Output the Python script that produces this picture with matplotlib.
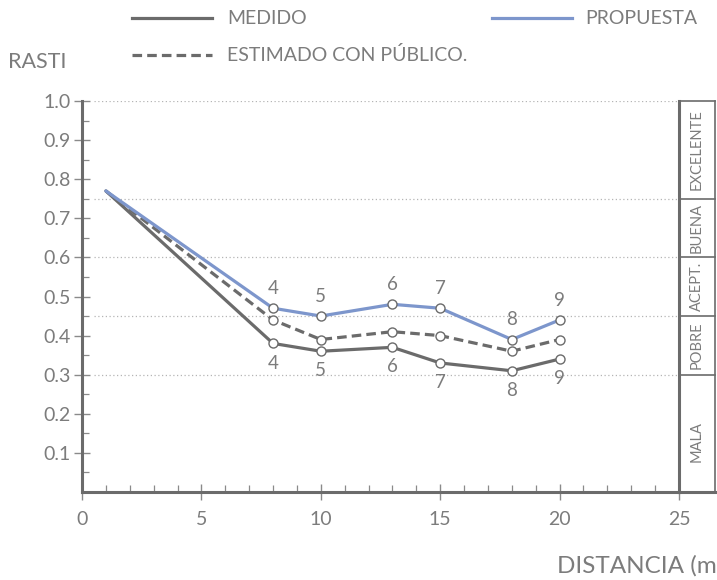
import matplotlib
matplotlib.use("Agg")
import matplotlib.pyplot as plt
from matplotlib.lines import Line2D
from matplotlib.ticker import MultipleLocator, FormatStrFormatter

plt.rcParams['font.family'] = ['Lato', 'DejaVu Sans']

# Data
distancia = [1, 8, 10, 13, 15, 18, 20]
medido = [0.77, 0.38, 0.36, 0.37, 0.33, 0.31, 0.34]
estimado = [0.77, 0.44, 0.39, 0.41, 0.40, 0.36, 0.39]
propuesta = [0.77, 0.47, 0.45, 0.48, 0.47, 0.39, 0.44]
puntos = ["4", "5", "6", "7", "8", "9"]

categorias = ["MALA", "POBRE", "ACEPT.", "BUENA", "EXCELENTE"]
limites = [0.0, 0.30, 0.45, 0.60, 0.75, 1.0]

GRIS = "#6b6b6b"
GRIS_TXT = "#7c7c7c"
AZUL = "#7d96cc"

fig = plt.figure(figsize=(7.17, 5.80), dpi=100, facecolor="white")
ax = fig.add_axes([82/717, 1-492/580, (679-82)/717, (492-101)/580])
ax.set_xlim(0, 25)
ax.set_ylim(0, 1.0)

# dotted reference lines at the category limits
for v in limites[1:]:
    ax.axhline(v, xmin=0.02, xmax=1, color="#b5b5b5", lw=0.9, ls=(0, (1, 2)), zorder=1)

# series
ax.plot(distancia, medido, color=GRIS, lw=2.3, zorder=3, solid_capstyle="round")
ax.plot(distancia, estimado, color=GRIS, lw=2.3, ls=(0, (3, 1.6)), zorder=3)
ax.plot(distancia, propuesta, color=AZUL, lw=2.3, zorder=3, solid_capstyle="round")
for serie in (medido, estimado, propuesta):
    ax.plot(distancia[1:], serie[1:], ls="none", marker="o", ms=6.5,
            mfc="white", mec=GRIS, mew=1.0, zorder=4)

# point numbers: above the proposal line, below the measured line
for d, p, m, lab in zip(distancia[1:], propuesta[1:], medido[1:], puntos):
    ax.annotate(lab, (d, p), xytext=(0, 8), textcoords="offset points",
                ha="center", va="bottom", fontsize=13.5, color=GRIS_TXT)
    ax.annotate(lab, (d, m), xytext=(0, -8), textcoords="offset points",
                ha="center", va="top", fontsize=13.5, color=GRIS_TXT)

# axes styling
for s in ("left", "bottom", "right"):
    ax.spines[s].set_color(GRIS)
    ax.spines[s].set_linewidth(2.2)
ax.spines["top"].set_visible(False)

ax.xaxis.set_major_locator(MultipleLocator(5))
ax.xaxis.set_minor_locator(MultipleLocator(1))
ax.yaxis.set_major_locator(MultipleLocator(0.1))
ax.yaxis.set_minor_locator(MultipleLocator(0.05))
ax.yaxis.set_major_formatter(FormatStrFormatter("%.1f"))
ax.set_yticks([0.1, 0.2, 0.3, 0.4, 0.5, 0.6, 0.7, 0.8, 0.9, 1.0])
ax.tick_params(axis="both", which="major", direction="inout", length=12,
               width=1.0, color="#8a8a8a", labelsize=14, labelcolor=GRIS_TXT)
ax.tick_params(axis="x", which="major", pad=8)
ax.tick_params(axis="y", which="major", pad=2)
ax.tick_params(axis="both", which="minor", direction="in", length=5,
               width=0.9, color="#8a8a8a")

# quality scale at the right
x_caja = 26.5
ax.plot([25, 27], [0, 0], color=GRIS, lw=2.2, clip_on=False, zorder=2)
ax.plot([x_caja, x_caja], [0, 1.0], color=GRIS, lw=1.2, clip_on=False)
for v in limites[1:]:
    ax.plot([25, x_caja], [v, v], color=GRIS, lw=1.2, clip_on=False)
for cat, lo, hi in zip(categorias, limites[:-1], limites[1:]):
    yc = (lo + hi) / 2 if cat != "MALA" else 0.13
    ax.text((25 + x_caja) / 2, yc, cat, rotation=90, ha="center", va="center",
            fontsize=10.5, color=GRIS_TXT, clip_on=False)

# axis titles
fig.text(8/717, 1-62/580, "RASTI", fontsize=15.5, color=GRIS_TXT, va="center", ha="left")
fig.text(557/717, 1-566/580, "DISTANCIA (m)", fontsize=17.5, color=GRIS_TXT,
         va="center", ha="left")

# legend
def muestra(x0, x1, y, **kw):
    fig.add_artist(Line2D([x0/717, x1/717], [1-y/580, 1-y/580],
                          transform=fig.transFigure, lw=2.3, **kw))

muestra(132, 212, 18, color=GRIS)
muestra(492, 572, 18, color=AZUL)
muestra(132, 212, 55, color=GRIS, ls=(0, (3, 1.6)))
fig.text(227/717, 1-18/580, "MEDIDO", fontsize=14, color=GRIS_TXT, va="center")
fig.text(585/717, 1-18/580, "PROPUESTA", fontsize=14, color=GRIS_TXT, va="center")
fig.text(227/717, 1-55/580, "ESTIMADO CON PÚBLICO.", fontsize=14, color=GRIS_TXT,
         va="center")

fig.savefig("out.png", dpi=100, facecolor="white")
